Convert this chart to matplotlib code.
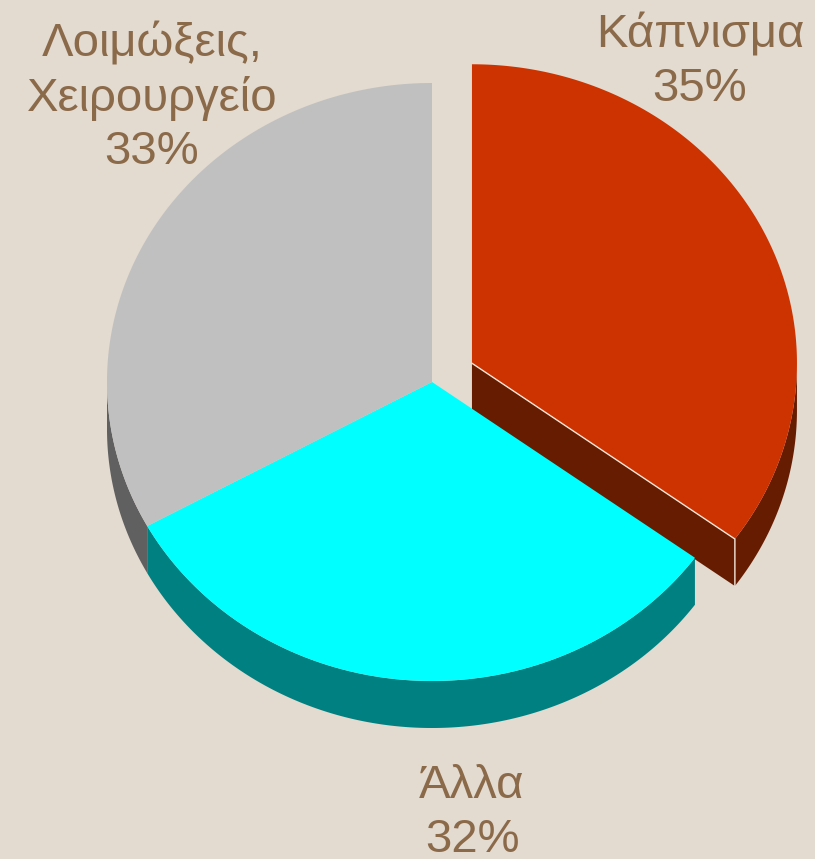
import numpy as np
import matplotlib.pyplot as plt
from matplotlib.patches import Polygon

plt.rcParams['font.family'] = ['Liberation Sans', 'DejaVu Sans']

# pie data, clockwise from 12 o'clock
labels = ['Κάπνισμα', 'Άλλα', 'Λοιμώξεις,\nΧειρουργείο']
values = [35, 32, 33]
top_colors = ['#CC3300', '#00FFFF', '#C0C0C0']
side_colors = ['#661C00', '#008080', '#606060']
explode = [0.138, 0, 0]
label_pos = [(700, 62), (472, 813), (152, 98)]

bg = '#E3DAD0'
text_col = '#8B6A4A'

# projected ellipse geometry (pixels)
cx, cy = 432, 382
rx, ry = 325, 299
depth = 47


def pt(t, ox, oy, dz=0):
    return ox + rx * np.cos(t), oy - ry * np.sin(t) + dz


fig = plt.figure(figsize=(8.15, 8.59), dpi=100, facecolor=bg)
ax = fig.add_axes([0, 0, 1, 1])
ax.set_xlim(0, 815)
ax.set_ylim(859, 0)
ax.axis('off')

total = sum(values)
start = 90.0
slices = []
for i, v in enumerate(values):
    span = 360.0 * v / total
    a1, a2 = start, start - span
    mid = np.radians((a1 + a2) / 2)
    ox = cx + explode[i] * rx * np.cos(mid)
    oy = cy - explode[i] * ry * np.sin(mid)
    slices.append((np.radians(a1), np.radians(a2), ox, oy))
    start = a2

# radial faces of exploded slices
for i, (t1, t2, ox, oy) in enumerate(slices):
    if explode[i] == 0:
        continue
    ex, ey = pt(t2, ox, oy)
    face = [(ox, oy), (ex, ey), (ex, ey + depth), (ox, oy + depth)]
    ax.add_patch(Polygon(face, closed=True, fc=side_colors[i], ec='none'))

# outer walls, front half only
for i, (t1, t2, ox, oy) in enumerate(slices):
    t = np.linspace(t2, t1, 400)
    t = t[np.sin(t) <= 0]
    if len(t) == 0:
        continue
    xs, ys = pt(t, ox, oy)
    wall = list(zip(xs, ys)) + list(zip(xs[::-1], ys[::-1] + depth))
    ax.add_patch(Polygon(wall, closed=True, fc=side_colors[i], ec='none'))

# top faces
for i, (t1, t2, ox, oy) in enumerate(slices):
    t = np.linspace(t1, t2, 400)
    xs, ys = pt(t, ox, oy)
    top = [(ox, oy)] + list(zip(xs, ys))
    ax.add_patch(Polygon(top, closed=True, fc=top_colors[i], ec='none'))

# thin highlight along the exploded slice edge
for i, (t1, t2, ox, oy) in enumerate(slices):
    if explode[i] == 0:
        continue
    ex, ey = pt(t2, ox, oy)
    ax.plot([ox, ex, ex], [oy, ey, ey + depth], color='#F2E6DA', lw=1.0)

for i, lab in enumerate(labels):
    x, y = label_pos[i]
    ax.text(x, y, f'{lab}\n{values[i]}%', ha='center', va='center',
            fontsize=34, color=text_col, linespacing=1.27)

fig.savefig('out.png', dpi=100, facecolor=bg)
